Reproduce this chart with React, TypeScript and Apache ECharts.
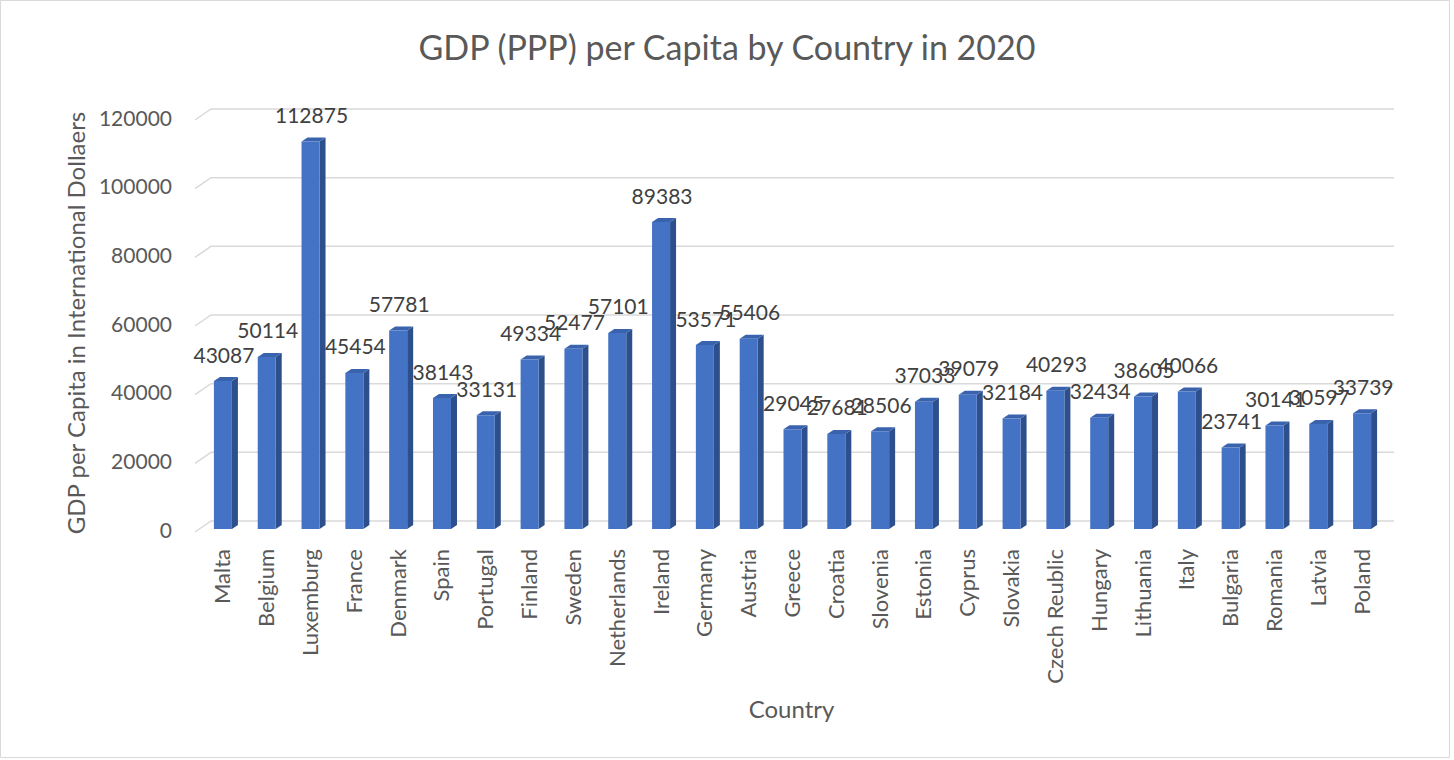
import React, { useEffect, useRef } from "react";
import * as echarts from "echarts";

const countries = [
  "Malta", "Belgium", "Luxemburg", "France", "Denmark", "Spain", "Portugal",
  "Finland", "Sweden", "Netherlands", "Ireland", "Germany", "Austria", "Greece",
  "Croatia", "Slovenia", "Estonia", "Cyprus", "Slovakia", "Czech Reublic",
  "Hungary", "Lithuania", "Italy", "Bulgaria", "Romania", "Latvia", "Poland",
];
const gdpValues = [
  43087, 50114, 112875, 45454, 57781, 38143, 33131,
  49334, 52477, 57101, 89383, 53571, 55406, 29045,
  27681, 28506, 37033, 39079, 32184, 40293,
  32434, 38605, 40066, 23741, 30141, 30597, 33739,
];
const yTicks = [0, 20000, 40000, 60000, 80000, 100000, 120000];

const FONT = "Lato, 'Open Sans', sans-serif";
const TEXT = "#595959";

export default function App() {
  const ref = useRef<HTMLDivElement>(null);
  useEffect(() => {
    if (!ref.current) return;
    const chart = echarts.init(ref.current, null, { renderer: "svg" });
    const halfW = 9;
    const depthX = 6;
    const depthY = 4;
    chart.setOption({
      animation: false,
      backgroundColor: "#ffffff",
      title: {
        text: "GDP (PPP) per Capita by Country in 2020",
        left: "center",
        top: 24,
        textStyle: { fontFamily: FONT, fontSize: 34, fontWeight: "normal", color: TEXT },
      },
      graphic: [
        {
          type: "rect",
          shape: { x: 0.5, y: 0.5, width: 1449, height: 757 },
          style: { fill: "none", stroke: "#d9d9d9", lineWidth: 1 },
          silent: true,
        },
      ],
      grid: { left: 200, right: 71, top: 117, bottom: 231 },
      xAxis: {
        type: "category",
        data: countries,
        name: "Country",
        nameLocation: "middle",
        nameGap: 167,
        nameTextStyle: { fontFamily: FONT, fontSize: 24, color: TEXT },
        axisLine: { show: false },
        axisTick: { show: false },
        axisLabel: {
          rotate: 90,
          margin: 20,
          interval: 0,
          fontFamily: FONT,
          fontSize: 22,
          color: TEXT,
        },
      },
      yAxis: {
        type: "value",
        min: 0,
        max: 120000,
        interval: 20000,
        name: "GDP per Capita in International Dollaers",
        nameLocation: "middle",
        nameRotate: 90,
        nameGap: 113,
        nameTextStyle: { fontFamily: FONT, fontSize: 24, color: TEXT },
        splitLine: { show: false },
        axisLine: { show: false },
        axisTick: { show: false },
        axisLabel: {
          margin: 28,
          fontFamily: FONT,
          fontSize: 21,
          color: TEXT,
          padding: [6, 0, 0, 0],
          formatter: (v: number) => String(v),
        },
      },
      series: [
        {
          type: "custom",
          silent: true,
          z: 1,
          data: yTicks.map((v) => [0, v]),
          encode: { x: 0, y: 1 },
          renderItem: (params: any, api: any) => {
            const cs = params.coordSys;
            const y = api.coord([0, api.value(1)])[1];
            return {
              type: "polyline",
              shape: {
                points: [
                  [cs.x - 5, y + 3],
                  [cs.x + 11, y - 8],
                  [cs.x + cs.width + 11, y - 8],
                ],
              },
              style: { fill: "none", stroke: "#d9d9d9", lineWidth: 1.5 },
            };
          },
        },
        {
          type: "custom",
          z: 2,
          data: gdpValues.map((v, i) => [i, v]),
          encode: { x: 0, y: 1 },
          renderItem: (params: any, api: any) => {
            const top = api.coord([api.value(0), api.value(1)]);
            const base = api.coord([api.value(0), 0]);
            const c = top[0] + 1;
            const ty = top[1];
            const by = base[1];
            return {
              type: "group",
              children: [
                {
                  type: "polygon",
                  shape: {
                    points: [
                      [c + halfW, by],
                      [c + halfW, ty],
                      [c + halfW + depthX, ty - depthY],
                      [c + halfW + depthX, by - depthY],
                    ],
                  },
                  style: { fill: "#2D4F8B" },
                },
                {
                  type: "polygon",
                  shape: {
                    points: [
                      [c - halfW, ty],
                      [c + halfW, ty],
                      [c + halfW + depthX, ty - depthY],
                      [c - halfW + depthX, ty - depthY],
                    ],
                  },
                  style: { fill: "#3A63AE" },
                },
                {
                  type: "rect",
                  shape: { x: c - halfW, y: ty, width: halfW * 2, height: by - ty },
                  style: { fill: "#4472C4" },
                },
                {
                  type: "text",
                  style: {
                    text: String(api.value(1)),
                    x: c + 1,
                    y: ty - 27,
                    align: "center",
                    verticalAlign: "middle",
                    fontFamily: FONT,
                    fontSize: 21,
                    fill: "#404040",
                  },
                },
              ],
            };
          },
        },
      ],
    });
    return () => chart.dispose();
  }, []);
  return (
    <div
      ref={ref}
      style={{ position: "absolute", left: 0, top: 0, width: 1454, height: 760 }}
    />
  );
}
